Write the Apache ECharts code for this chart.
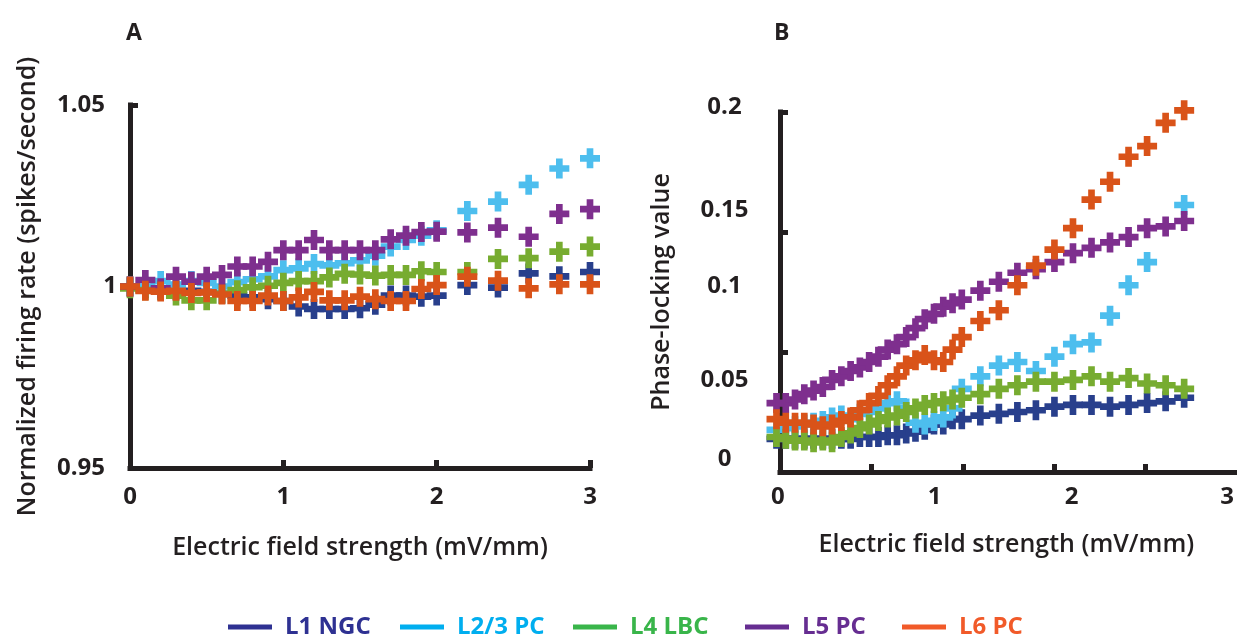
<!DOCTYPE html>
<html><head><meta charset="utf-8">
<script src="https://cdn.jsdelivr.net/npm/echarts@6/dist/echarts.min.js"></script>
<style>html,body{margin:0;padding:0;background:#fff}#c{width:1237px;height:638px}</style>
</head><body><div id="c"></div>
<script>
// ---------------- DATA ----------------
const SERIES_NAMES = ['L1 NGC', 'L2/3 PC', 'L4 LBC', 'L5 PC', 'L6 PC'];

// Panel A: normalized firing rate vs electric field strength
const FIELD_A = [0, 0.1, 0.2, 0.3, 0.4, 0.5, 0.6, 0.7, 0.8, 0.9, 1.0, 1.1, 1.2, 1.3, 1.4, 1.5, 1.6, 1.7, 1.8, 1.9, 2.0, 2.2, 2.4, 2.6, 2.8, 3.0];
const RATE_L1  = [1.0, 0.9995, 0.999, 0.999, 0.9988, 0.9985, 0.998, 0.9975, 0.997, 0.9965, 0.996, 0.9945, 0.9938, 0.9938, 0.9938, 0.994, 0.995, 0.9975, 0.9975, 0.9972, 0.9975, 1.0004, 0.9997, 1.0036, 1.0028, 1.004];
const RATE_L23 = [1.0, 1.0, 1.0015, 1.0005, 1.0015, 1.001, 1.0, 1.0012, 1.002, 1.0028, 1.0045, 1.005, 1.0062, 1.0058, 1.0064, 1.0072, 1.0085, 1.011, 1.0128, 1.014, 1.0155, 1.0208, 1.0234, 1.028, 1.0325, 1.0353];
const RATE_L4  = [0.9995, 0.999, 0.999, 0.9975, 0.9962, 0.9962, 0.998, 0.999, 0.9998, 1.0002, 1.001, 1.0015, 1.0015, 1.0025, 1.0035, 1.0033, 1.003, 1.0032, 1.0032, 1.0042, 1.004, 1.004, 1.0076, 1.0078, 1.0096, 1.011];
const RATE_L5  = [1.0, 1.0018, 0.9995, 1.0027, 1.0013, 1.0027, 1.0032, 1.0055, 1.0055, 1.0068, 1.01, 1.01, 1.0128, 1.01, 1.01, 1.01, 1.01, 1.013, 1.014, 1.015, 1.0151, 1.0149, 1.0162, 1.0137, 1.02, 1.0213];
const RATE_L6  = [1.0, 0.9988, 0.9986, 0.9988, 0.9982, 0.9984, 0.9978, 0.996, 0.996, 0.9975, 0.996, 0.997, 0.9985, 0.9962, 0.9962, 0.9972, 0.9965, 0.996, 0.996, 0.9993, 1.0004, 1.0027, 1.0016, 0.9995, 1.0006, 1.0006];

// Panel B: phase-locking value vs electric field strength
const FIELD_B = [0, 0.0625, 0.125, 0.1875, 0.25, 0.3125, 0.375, 0.4375, 0.5, 0.5625, 0.625, 0.6875, 0.75, 0.8125, 0.875, 0.9375, 1.0, 1.0625, 1.125, 1.1875, 1.25, 1.375, 1.5, 1.625, 1.75, 1.875, 2.0, 2.125, 2.25, 2.375, 2.5, 2.625, 2.75];
const PLV_L1  = [0.013, 0.013, 0.013, 0.013, 0.013, 0.013, 0.013, 0.013, 0.013, 0.014, 0.014, 0.014, 0.015, 0.015, 0.016, 0.017, 0.018, 0.021, 0.021, 0.024, 0.024, 0.026, 0.027, 0.028, 0.029, 0.031, 0.032, 0.032, 0.031, 0.032, 0.033, 0.034, 0.036];
const PLV_L23 = [0.018, 0.019, 0.020, 0.021, 0.022, 0.023, 0.025, 0.026, 0.024, 0.027, 0.028, 0.030, 0.033, 0.034, 0.030, 0.022, 0.021, 0.023, 0.025, 0.030, 0.041, 0.048, 0.054, 0.056, 0.051, 0.059, 0.066, 0.067, 0.082, 0.099, 0.112, null, 0.144];
const PLV_L4  = [0.014, 0.013, 0.012, 0.012, 0.011, 0.012, 0.011, 0.014, 0.016, 0.019, 0.021, 0.023, 0.025, 0.026, 0.028, 0.030, 0.032, 0.033, 0.034, 0.035, 0.036, 0.038, 0.041, 0.043, 0.045, 0.045, 0.046, 0.048, 0.045, 0.047, 0.044, 0.043, 0.041];
const PLV_L5  = [0.033, 0.033, 0.035, 0.038, 0.040, 0.042, 0.046, 0.048, 0.051, 0.053, 0.056, 0.059, 0.063, 0.066, 0.070, 0.075, 0.080, 0.083, 0.087, 0.089, 0.091, 0.096, 0.101, 0.106, 0.108, 0.112, 0.117, 0.120, 0.123, 0.126, 0.131, 0.132, 0.135];
const PLV_L6  = [0.024, 0.022, 0.022, 0.022, 0.021, 0.020, 0.021, 0.023, 0.025, 0.029, 0.033, 0.037, 0.043, 0.048, 0.054, 0.057, 0.060, 0.057, 0.056, 0.063, 0.070, 0.079, 0.085, 0.099, 0.110, 0.119, 0.131, 0.147, 0.157, 0.171, 0.177, 0.190, 0.197];

// Tick labels
const A_X_TICKS = [0, 1, 2, 3];
const A_Y_TICKS = [0.95, 1, 1.05];
const B_X_LABELS = ['0', '1', '2', '3'];
const B_Y_LABELS = ['0', '0.05', '0.1', '0.15', '0.2'];

// ---------------- STYLE / LAYOUT ----------------
const MARK_COLORS = ['#283F8C', '#4DBEEE', '#77AC30', '#7E2F8E', '#D95319'];
const LEGEND_COLORS = ['#2E3192', '#00AEEF', '#39B54A', '#662D91', '#F15A29'];
const LEGEND_LEFT = [228, 400, 573, 745, 902];
const PLUS = 'path://M7,0H14V7H21V14H14V21H7V14H0V7H7Z';
const AX = '#231F20';
const FONT = '"Open Sans", "Noto Sans", sans-serif';
// where the (irregularly placed) B tick labels sit along the data scale
const B_X_LABEL_AT = [0.01, 1.067, 1.99, 3.04];
const B_Y_LABEL_AT = [0.0017, 0.0459, 0.0986, 0.1412, 0.1989];

function pairs(xs, ys) {
  return xs.map((x, i) => ys[i] == null ? null : [x, ys[i]]).filter(p => p);
}
const A_SETS = [RATE_L1, RATE_L23, RATE_L4, RATE_L5, RATE_L6];
const B_SETS = [PLV_L1, PLV_L23, PLV_L4, PLV_L5, PLV_L6];

const tickFont = { fontSize: 24, fontWeight: 'bold', color: AX, fontFamily: FONT };
const nameFont = { fontSize: 25, fontWeight: 600, color: AX, fontFamily: FONT };
const axLine = { lineStyle: { color: AX, width: 5, cap: 'square' } };
const tickSty = { inside: true, length: 8, lineStyle: { color: AX, width: 5 } };

const series = [];
SERIES_NAMES.forEach((n, i) => {
  series.push({
    name: n, type: 'scatter', xAxisIndex: 0, yAxisIndex: 0,
    symbol: PLUS, symbolSize: 20, itemStyle: { color: MARK_COLORS[i], opacity: 1 },
    data: pairs(FIELD_A, A_SETS[i]), z: 2 + i
  });
});
SERIES_NAMES.forEach((n, i) => {
  series.push({
    name: n, type: 'scatter', xAxisIndex: 1, yAxisIndex: 1,
    symbol: PLUS, symbolSize: 20, itemStyle: { color: MARK_COLORS[i], opacity: 1 },
    data: pairs(FIELD_B, B_SETS[i]), z: 2 + i
  });
});

const legends = SERIES_NAMES.map((n, i) => ({
  left: LEGEND_LEFT[i], top: 615, padding: 0, icon: 'rect', itemWidth: 44, itemHeight: 5,
  textStyle: { fontSize: 24, fontWeight: 'bold', fontFamily: FONT, color: LEGEND_COLORS[i], padding: [0, 0, 0, 8] },
  data: [{ name: n, itemStyle: { color: LEGEND_COLORS[i] } }],
  selectedMode: false
}));

const option = {
  animation: false,
  backgroundColor: '#fff',
  title: [
    { text: 'A', left: 121, top: 17, textStyle: { fontSize: 23, fontWeight: 'bold', color: AX, fontFamily: FONT } },
    { text: 'B', left: 769, top: 17, textStyle: { fontSize: 23, fontWeight: 'bold', color: AX, fontFamily: FONT } }
  ],
  legend: legends,
  grid: [
    { left: 130, top: 105, width: 460, height: 363 },
    { left: 776.5, top: 105, width: 460.5, height: 357 },
    { left: 780, top: 112, width: 460, height: 360 }
  ],
  xAxis: [
    { gridIndex: 0, type: 'value', min: 0, max: 3, interval: 1,
      axisLine: axLine, axisTick: Object.assign({ customValues: [1, 2, 3] }, tickSty),
      axisLabel: Object.assign({ margin: 17, customValues: A_X_TICKS }, tickFont), splitLine: { show: false },
      name: 'Electric field strength (mV/mm)', nameLocation: 'middle', nameGap: 67, nameTextStyle: nameFont },
    { gridIndex: 1, type: 'value', min: 0, max: 3.101,
      axisLine: { show: false }, axisTick: { show: false }, splitLine: { show: false },
      axisLabel: Object.assign({ margin: 23, customValues: B_X_LABEL_AT, formatter: v => B_X_LABELS[Math.round(v)] }, tickFont),
      name: 'Electric field strength (mV/mm)', nameLocation: 'middle', nameGap: 70, nameTextStyle: nameFont },
    { gridIndex: 2, type: 'value', min: 0, max: 5, interval: 1,
      axisLine: axLine, axisTick: Object.assign({ customValues: [1, 2, 3, 4] }, tickSty),
      axisLabel: { show: false }, splitLine: { show: false } }
  ],
  yAxis: [
    { gridIndex: 0, type: 'value', min: 0.95, max: 1.05, interval: 0.05,
      axisLine: axLine, axisTick: Object.assign({ customValues: [1.05] }, tickSty),
      axisLabel: Object.assign({ margin: 13, customValues: A_Y_TICKS,
        formatter: v => { const t = String(+v.toFixed(2)); return Math.abs(v - 1) < 1e-9 ? t : '{p|' + t + '}'; },
        rich: { p: { padding: [0, 12, 0, 0], fontSize: 24, fontWeight: 'bold', color: AX, fontFamily: FONT } } }, tickFont),
      splitLine: { show: false },
      name: 'Normalized firing rate (spikes/second)', nameLocation: 'middle', nameGap: 90, nameTextStyle: nameFont },
    { gridIndex: 1, type: 'value', min: 0, max: 0.2,
      axisLine: { show: false }, axisTick: { show: false }, splitLine: { show: false },
      axisLabel: Object.assign({ margin: 52, align: 'center', customValues: B_Y_LABEL_AT, formatter: v => B_Y_LABELS[Math.round(v * 20)] }, tickFont) },
    { gridIndex: 2, type: 'value', min: 0, max: 3, interval: 1,
      axisLine: axLine, axisTick: Object.assign({ customValues: [1, 2, 3] }, tickSty),
      axisLabel: { show: false }, splitLine: { show: false },
      name: 'Phase-locking value', nameLocation: 'middle', nameGap: 106, nameTextStyle: nameFont }
  ],
  series: series
};

const chart = echarts.init(document.getElementById('c'), null, { renderer: 'canvas' });
chart.setOption(option);
</script>
</body></html>
